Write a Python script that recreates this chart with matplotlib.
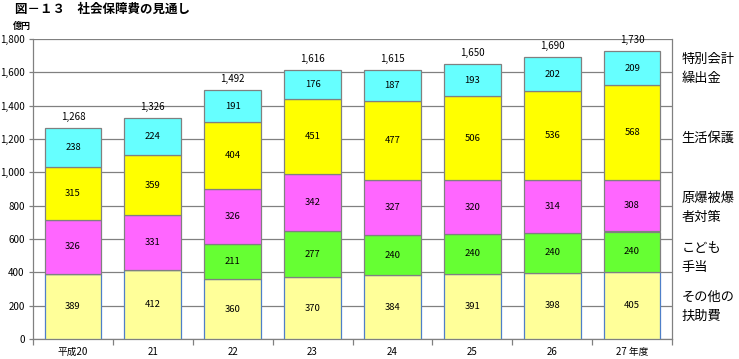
import numpy as np
import matplotlib
matplotlib.use('Agg')
import matplotlib.pyplot as plt
from matplotlib.ticker import FuncFormatter, FixedLocator

plt.rcParams['font.family'] = ['Noto Sans CJK JP', 'DejaVu Sans']

years = ['平成20', '21', '22', '23', '24', '25', '26', '27 年度']
other_aid = [389, 412, 360, 370, 384, 391, 398, 405]
child_allowance = [0, 0, 211, 277, 240, 240, 240, 240]
atomic_bomb = [326, 331, 326, 342, 327, 320, 314, 308]
welfare = [315, 359, 404, 451, 477, 506, 536, 568]
special_account = [238, 224, 191, 176, 187, 193, 202, 209]
totals = [1268, 1326, 1492, 1616, 1615, 1650, 1690, 1730]

series = [
    (other_aid, '#FFFF99', '#4F7FC8', 'その他の\n扶助費'),
    (child_allowance, '#66FF33', '#808080', 'こども\n手当'),
    (atomic_bomb, '#FF66FF', '#808080', '原爆被爆\n者対策'),
    (welfare, '#FFFF00', '#808080', '生活保護'),
    (special_account, '#66FFFF', '#808080', '特別会計\n繰出金'),
]
# y position (data units) of the right-hand labels
label_y = [192, 486, 789, 1206, 1620]

fig = plt.figure(figsize=(7.39, 3.59), dpi=100)
ax = fig.add_axes([33 / 739, 1 - 339 / 359, 639 / 739, 300 / 359])

x = np.arange(len(years))
bottom = np.zeros(len(years))
for (vals, face, edge, name), ly in zip(series, label_y):
    vals = np.array(vals, dtype=float)
    ax.bar(x, vals, 0.71, bottom=bottom, color=face, edgecolor=edge,
           linewidth=0.9, zorder=3)
    for xi, b, v in zip(x, bottom, vals):
        if v > 0:
            ax.text(xi, b + v / 2, '{:d}'.format(int(v)), ha='center',
                    va='center', fontsize=6.8, zorder=4)
    ax.text(1.015, ly, name, transform=ax.get_yaxis_transform(), ha='left',
            va='center', fontsize=9.5, linespacing=1.6)
    bottom += vals

for xi, t in zip(x, totals):
    ax.text(xi, t + 35, '{:,}'.format(t), ha='center', va='bottom', fontsize=7)

ax.set_xlim(-0.5, len(years) - 0.5)
ax.set_ylim(0, 1800)
ax.yaxis.set_major_locator(FixedLocator(range(0, 1801, 200)))
ax.yaxis.set_major_formatter(FuncFormatter(lambda v, p: '{:,}'.format(int(v))))
ax.grid(axis='y', color='#808080', linewidth=0.9, zorder=0)
ax.set_axisbelow(True)

ax.set_xticks(np.arange(-0.5, len(years), 1.0))
ax.set_xticklabels([])
ax.set_xticks(x, minor=True)
ax.set_xticklabels(years, minor=True)
ax.tick_params(axis='x', which='major', length=4, color='#808080', width=0.9)
ax.tick_params(axis='x', which='minor', length=0, pad=5.5, labelsize=7)
ax.tick_params(axis='y', length=3, color='#808080', width=0.9, labelsize=7, pad=3)

for side in ['left', 'bottom', 'right']:
    ax.spines[side].set_color('#808080')
    ax.spines[side].set_linewidth(0.9)
ax.spines['top'].set_visible(False)

fig.text(15 / 739, 1 - 9 / 359, '図－１３　社会保障費の見通し', ha='left', va='center',
         fontsize=9, fontweight='bold')
fig.text(22 / 739, 1 - 26 / 359, '億円', ha='center', va='center', fontsize=6.5,
         fontweight='bold')

fig.savefig('out.png', dpi=100)
